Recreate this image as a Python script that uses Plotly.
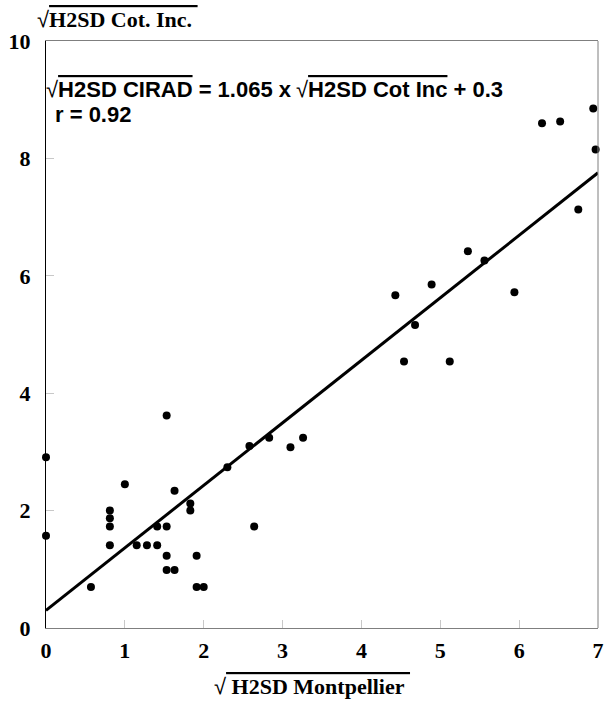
import plotly.graph_objects as go

# Data
x_montpellier = [0, 0, 0.57, 0.81, 0.81, 0.81, 0.81, 1.0, 1.15, 1.28, 1.41, 1.41,
                 1.53, 1.53, 1.53, 1.53, 1.63, 1.63, 1.83, 1.83, 1.91, 1.91, 2.0,
                 2.30, 2.58, 2.64, 2.83, 3.10, 3.26, 4.43, 4.54, 4.68, 4.89, 5.12,
                 5.35, 5.56, 5.94, 6.29, 6.52, 6.75, 6.94, 6.97]
y_cotinc = [2.91, 1.57, 0.70, 2.0, 1.87, 1.73, 1.41, 2.45, 1.41, 1.41, 1.73, 1.41,
            3.62, 1.73, 1.23, 0.99, 0.99, 2.34, 2.12, 2.0, 1.23, 0.70, 0.70,
            2.74, 3.10, 1.73, 3.24, 3.08, 3.24, 5.67, 4.54, 5.16, 5.85, 4.54,
            6.42, 6.26, 5.72, 8.60, 8.63, 7.13, 8.85, 8.15]

slope = 1.065
intercept = 0.3
fit_x = [0, 7]
fit_y = [slope * v + intercept for v in fit_x]

x_ticks = [0, 1, 2, 3, 4, 5, 6, 7]
y_ticks = [0, 2, 4, 6, 8, 10]

SERIF = "Liberation Serif"
SANS = "Liberation Sans"
OVL = 'text-decoration:overline'
RAD = '<span style="font-weight:normal;font-family:Liberation Sans">√</span>'

fig = go.Figure()
fig.add_trace(go.Scatter(x=x_montpellier, y=y_cotinc, mode="markers",
                         marker=dict(color="black", size=8),
                         cliponaxis=False, showlegend=False))
fig.add_trace(go.Scatter(x=fit_x, y=fit_y, mode="lines",
                         line=dict(color="black", width=3),
                         showlegend=False))

tickfont = dict(family=SERIF, size=22, color="black", weight="bold")

fig.update_xaxes(range=[0, 7], tickvals=x_ticks, ticks="inside", ticklen=8,
                 tickcolor="#c8c8c8", showgrid=False, zeroline=False,
                 showline=True, linecolor="#7f7f7f", linewidth=1, mirror=True,
                 tickfont=tickfont, ticklabelstandoff=3)
fig.update_yaxes(range=[0, 10], tickvals=y_ticks, ticks="inside", ticklen=8,
                 tickcolor="#c8c8c8", showgrid=False, zeroline=False,
                 showline=True, linecolor="black", linewidth=1, mirror=False,
                 tickfont=tickfont, ticklabelstandoff=10)

fig.add_shape(type="line", xref="x domain", yref="y domain", x0=1, x1=1, y0=0, y1=1,
              line=dict(color="#7f7f7f", width=1))

annots = [
    dict(text=RAD + f'<span style="{OVL}">H2SD Cot. Inc.\u00a0</span>',
         x=-0.02, y=1.037, xanchor="left", yanchor="middle",
         font=dict(family=SERIF, size=22, color="black", weight="bold")),
    dict(text=RAD + f'<span style="{OVL}">\u00a0H2SD Montpellier\u00a0</span>',
         x=0.3, y=-0.099, xanchor="left", yanchor="middle",
         font=dict(family=SERIF, size=22, color="black", weight="bold")),
    dict(text=RAD + f'<span style="{OVL}">H2SD CIRAD</span> = 1.065 x',
         x=-0.004, y=0.917, xanchor="left", yanchor="middle",
         font=dict(family=SANS, size=22, color="black", weight="bold")),
    dict(text=RAD + f'<span style="{OVL}">H2SD Cot Inc</span> + 0.3',
         x=0.45, y=0.917, xanchor="left", yanchor="middle",
         font=dict(family=SANS, size=22, color="black", weight="bold")),
    dict(text='r = 0.92',
         x=0.012, y=0.874, xanchor="left", yanchor="middle",
         font=dict(family=SANS, size=22, color="black", weight="bold")),
]
for a in annots:
    fig.add_annotation(xref="paper", yref="paper", showarrow=False, **a)

fig.update_layout(width=613, height=704,
                  margin=dict(l=44, r=9, t=41, b=76),
                  paper_bgcolor="white", plot_bgcolor="white")

fig.write_html("out.html")
